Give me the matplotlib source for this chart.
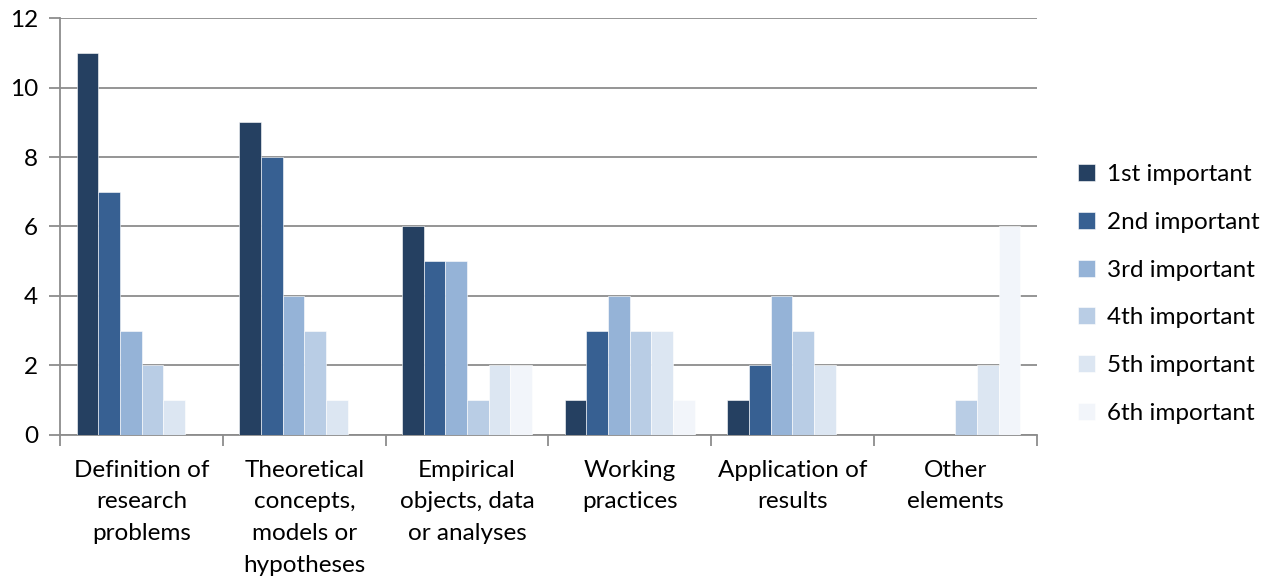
import matplotlib
matplotlib.use("Agg")
import matplotlib.pyplot as plt
import numpy as np

categories = ["Definition of\nresearch\nproblems", "Theoretical\nconcepts,\nmodels or\nhypotheses",
              "Empirical\nobjects, data\nor analyses", "Working\npractices", "Application of\nresults",
              "Other\nelements"]
series_names = ["1st important", "2nd important", "3rd important", "4th important", "5th important", "6th important"]
first = [11, 9, 6, 1, 1, 0]
second = [7, 8, 5, 3, 2, 0]
third = [3, 4, 5, 4, 4, 0]
fourth = [2, 3, 1, 3, 3, 1]
fifth = [1, 1, 2, 3, 2, 2]
sixth = [0, 0, 2, 1, 0, 6]
series = [first, second, third, fourth, fifth, sixth]
colors = ["#254061", "#376092", "#95B3D7", "#B9CDE5", "#DCE6F2", "#F2F5FA"]

plt.rcParams['font.family'] = ['Lato', 'DejaVu Sans']
fig = plt.figure(figsize=(12.68, 5.83), dpi=100)
ax = fig.add_axes([0.0475, 0.254, 0.770, 0.715])

n = len(series)
width = 0.8 / n
x = np.arange(len(categories))
for i, (vals, c, name) in enumerate(zip(series, colors, series_names)):
    ax.bar(x - 0.4 + width * (i + 0.5), vals, width, color=c, label=name,
           edgecolor="white", linewidth=0.4, zorder=3)

ax.set_xlim(-0.5, len(categories) - 0.5)
ax.set_ylim(0, 12)
ax.set_yticks(range(0, 13, 2))
ax.yaxis.grid(True, color="#8C8C8C", linewidth=1.3, zorder=0)
ax.set_axisbelow(True)
for s in ["top", "right"]:
    ax.spines[s].set_visible(False)
for s in ["left", "bottom"]:
    ax.spines[s].set_color("#8C8C8C")
    ax.spines[s].set_linewidth(1.3)
ax.tick_params(axis="y", length=8, color="#8C8C8C", width=1.3, labelsize=17.5, pad=8)
ax.set_xticks(np.arange(-0.5, len(categories), 1.0))
ax.set_xticklabels([])
ax.tick_params(axis="x", length=8, color="#8C8C8C", width=1.3)
ax.set_xticks(x, minor=True)
ax.set_xticklabels(categories, minor=True, fontsize=17.5, linespacing=1.62)
ax.tick_params(axis="x", which="minor", length=0, pad=18)

leg = ax.legend(loc="center left", bbox_to_anchor=(1.02, 0.338), frameon=False,
                fontsize=17.5, handlelength=0.7, handleheight=0.7, labelspacing=1.1,
                handletextpad=0.5)

fig.savefig("out.png", dpi=100)
